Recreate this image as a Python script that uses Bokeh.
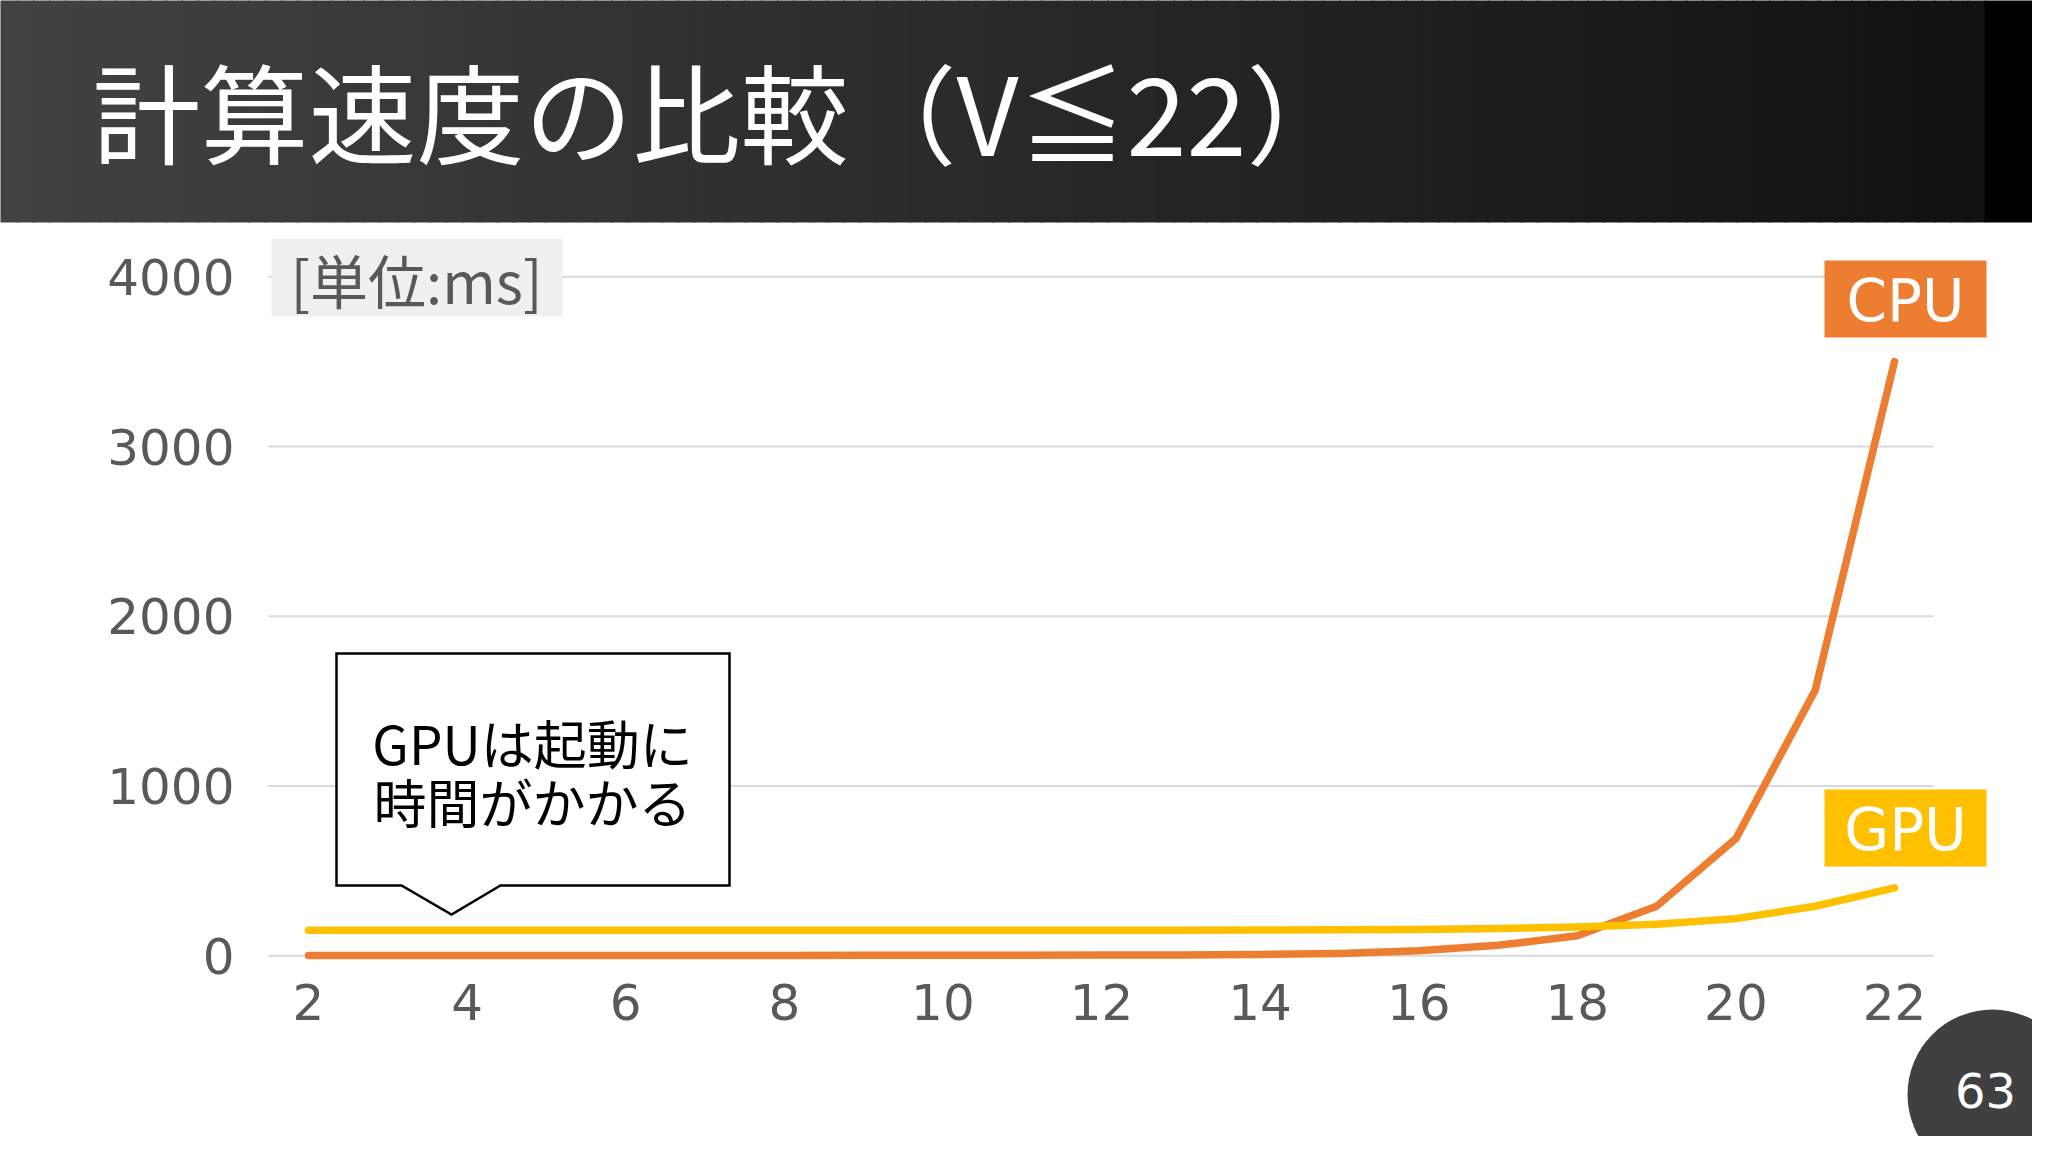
import numpy as np
from bokeh.plotting import figure
from bokeh.models import Range1d, FixedTicker, Label
from bokeh.embed import file_html
from bokeh.resources import INLINE

# ---------------- data ----------------
n_values = [2, 3, 4, 5, 6, 7, 8, 9, 10, 11, 12, 13, 14, 15, 16, 17, 18, 19, 20, 21, 22]
cpu_ms = [2, 2, 2, 2, 2, 2, 2, 3, 3, 3, 4, 5, 8, 14, 30, 62, 118, 292, 690, 1565, 3500]
gpu_ms = [150, 151, 151, 151, 150, 150, 150, 151, 151, 151, 150, 151, 152, 153, 155, 161, 170, 186, 219, 292, 400]
x_ticks = [2, 4, 6, 8, 10, 12, 14, 16, 18, 20, 22]
y_ticks = [0, 1000, 2000, 3000, 4000]

title_text = "計算速度の比較（V≦22）"
unit_text = "[単位:ms]"
note_lines = ["GPUは起動に", "時間がかかる"]
series_names = ["CPU", "GPU"]
page_number = "63"

# ---------------- geometry (reference pixels -> data) ----------------
W, H = 2032, 1136
X0_PX, PX_PER_X = 308.0, 79.3      # x=2 at 308px
Y0_PX, PX_PER_Y = 955.3, 0.16975   # y=0 at 955.3px


def dx(px):
    return 2 + (px - X0_PX) / PX_PER_X


def dy(py):
    return (Y0_PX - py) / PX_PER_Y


FONT = "Noto Sans CJK JP"
NUM_FONT = "DejaVu Sans"
CPU_COLOR = "#ED7D31"
GPU_COLOR = "#FFC000"
LABEL_GRAY = "#595959"

p = figure(width=W, height=H, output_backend="svg", toolbar_location=None,
           x_range=Range1d(dx(0), dx(W)), y_range=Range1d(dy(H), dy(0)),
           min_border=0)
p.outline_line_color = None
p.background_fill_color = "#ffffff"
p.border_fill_color = "#ffffff"
p.xgrid.visible = False
p.ygrid.visible = False

# ---------------- header band ----------------
n_strips = 120
edges = np.linspace(0, 1984, n_strips + 1)
cols = []
for i in range(n_strips):
    t = i / (n_strips - 1)
    c = int(round(66 + (17 - 66) * t))
    cols.append("#%02x%02x%02x" % (c, c, c))
p.quad(left=[dx(e - 0.8) for e in edges[:-1]], right=[dx(e + 0.8) for e in edges[1:]],
       top=dy(-5), bottom=dy(222), fill_color=cols, line_color=None)
p.quad(left=[dx(1984)], right=[dx(2060)], top=[dy(-5)], bottom=[dy(222)],
       fill_color="#000000", line_color=None)

# ---------------- grid lines (bounded) ----------------
p.segment(x0=[dx(268)] * len(y_ticks), x1=[dx(1933)] * len(y_ticks), y0=y_ticks, y1=y_ticks,
          line_color="#d9d9d9", line_width=2)

# ---------------- axes ----------------
p.xaxis.fixed_location = 0
p.yaxis.fixed_location = dx(268)
p.xaxis.ticker = FixedTicker(ticks=x_ticks)
p.yaxis.ticker = FixedTicker(ticks=y_ticks)
for ax in (p.xaxis, p.yaxis):
    ax.axis_line_color = None
    ax.major_tick_line_color = None
    ax.minor_tick_line_color = None
    ax.major_label_text_font = NUM_FONT
    ax.major_label_text_font_size = "50px"
    ax.major_label_text_color = LABEL_GRAY
p.xaxis.major_label_standoff = 22
p.yaxis.major_label_standoff = 28

# ---------------- unit label box ----------------
p.quad(left=[dx(271)], right=[dx(562)], top=[dy(238)], bottom=[dy(316)],
       fill_color="#f0f0f0", line_color=None)

# ---------------- series ----------------
p.line(n_values, cpu_ms, line_color=CPU_COLOR, line_width=7.5, line_cap="round", line_join="round")
p.line(n_values, gpu_ms, line_color=GPU_COLOR, line_width=7.5, line_cap="round", line_join="round")

# series tag boxes
tag_rows = ((series_names[0], CPU_COLOR, 260, 337), (series_names[1], GPU_COLOR, 789, 866))
for name, color, top, bot in tag_rows:
    p.quad(left=[dx(1824)], right=[dx(1986)], top=[dy(top)], bottom=[dy(bot)],
           fill_color=color, line_color=None)

# ---------------- callout ----------------
cx = [336, 729, 729, 500, 451, 401, 336]
cy = [653, 653, 885, 885, 914, 885, 885]
p.patch([dx(v) for v in cx], [dy(v) for v in cy], fill_color="#ffffff",
        line_color="#000000", line_width=2.5, line_join="miter")

# ---------------- page number circle ----------------
p.scatter(x=[dx(1992)], y=[dy(1094)], size=170, marker="circle",
          fill_color="#404040", line_color=None)


# ---------------- texts as annotations ----------------
def add_label(px, py, text, size, color, font=FONT, align="center"):
    p.add_layout(Label(x=dx(px), y=dy(py), x_units="data", y_units="data", text=text,
                       text_font=font, text_font_size=size,
                       text_color=color, text_align=align, text_baseline="middle"))


add_label(1985, 1090, page_number, "48px", "#ffffff", font=NUM_FONT)
for name, color, top, bot in tag_rows:
    add_label(1905, (top + bot) / 2 + 2, name, "58px", "#ffffff", font=NUM_FONT)
add_label(532, 741, note_lines[0], "53px", "#000000")
add_label(532, 800, note_lines[1], "53px", "#000000")
add_label(416, 278, unit_text, "58px", LABEL_GRAY)
add_label(92, 108, title_text, "108px", "#ffffff", align="left")

open("out.html", "w").write(file_html(p, INLINE))
